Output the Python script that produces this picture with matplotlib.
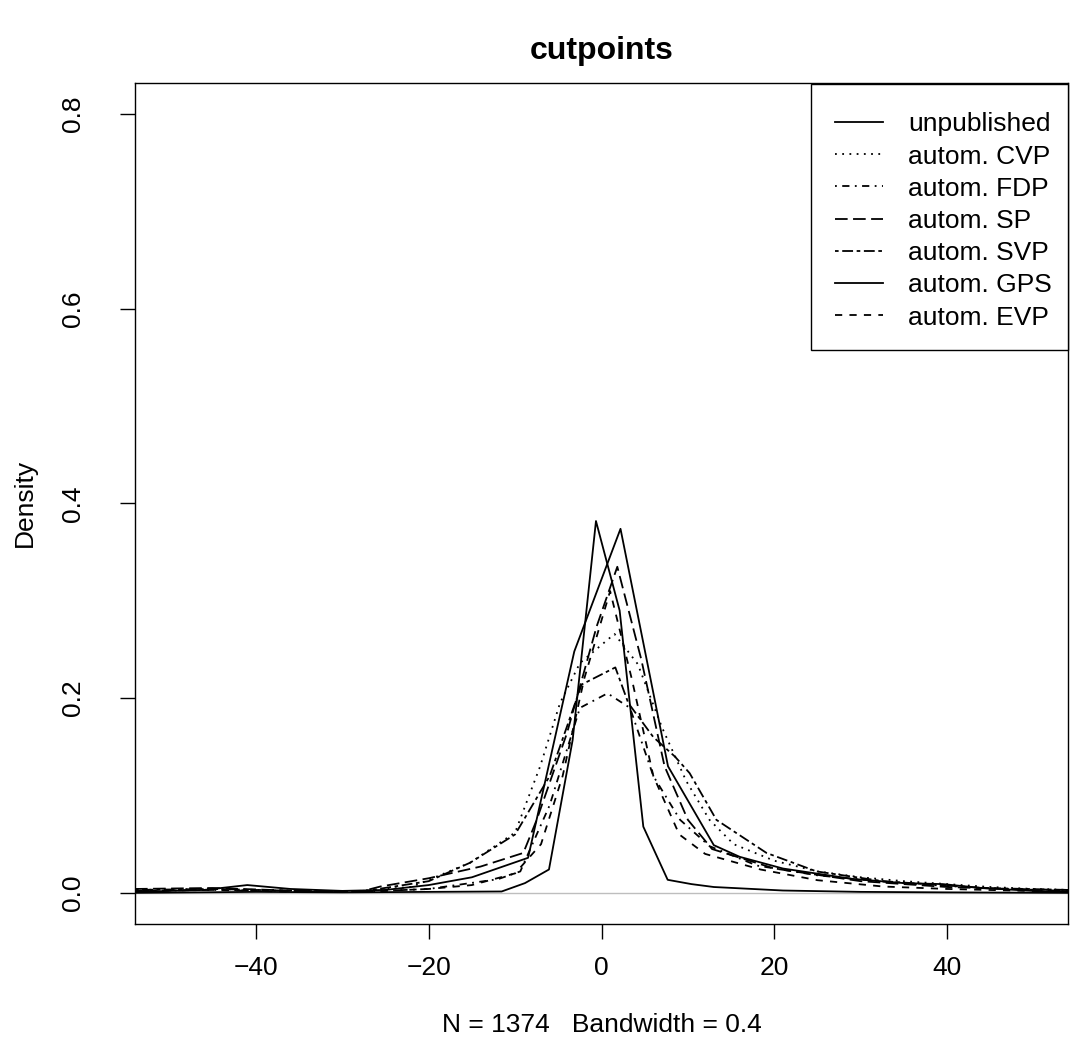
import numpy as np
import matplotlib
matplotlib.use('Agg')
import matplotlib.pyplot as plt
from matplotlib.lines import Line2D
from matplotlib.patches import Rectangle

plt.rcParams['font.family'] = ['Liberation Sans', 'DejaVu Sans']

# density curves (x, y vertices)
labels = ['unpublished', 'autom. CVP', 'autom. FDP', 'autom. SP',
          'autom. SVP', 'autom. GPS', 'autom. EVP']

unpub_x = [-54, -46, -41, -36, -30, -25, -20, -15, -8.5, -3.15, 2.2, 7.7, 13.0, 16, 21, 29, 35, 39.5, 44, 50, 54]
unpub_y = [0.001, 0.003, 0.008, 0.004, 0.002, 0.003, 0.008, 0.016, 0.036, 0.248, 0.374, 0.13, 0.049, 0.037, 0.025, 0.0144, 0.010, 0.009, 0.005, 0.002, 0.001]

cvp_x = [-54, -45, -35, -28, -22, -15.2, -10, -7.1, -4.8, -2.5, 1.5, 4.2, 7.0, 9.8, 12.5, 15.3, 20, 25, 30, 35, 40, 45, 50, 54]
cvp_y = [0.003, 0.004, 0.002, 0.002, 0.006, 0.031, 0.062, 0.13, 0.195, 0.236, 0.266, 0.235, 0.17, 0.115, 0.075, 0.05, 0.033, 0.022, 0.016, 0.012, 0.009, 0.006, 0.004, 0.003]

fdp_x = [-54, -45, -35, -28, -20, -12, -9.4, -6, -2.5, 0.7, 3.3, 6, 9.1, 12.5, 18, 25, 32, 40, 47, 54]
fdp_y = [0.002, 0.003, 0.002, 0.001, 0.004, 0.014, 0.022, 0.09, 0.19, 0.205, 0.19, 0.12, 0.075, 0.048, 0.028, 0.018, 0.012, 0.007, 0.004, 0.003]

sp_x = [-54, -45, -35, -28, -25.6, -20, -14, -9.05, -7.5, -4.0, -0.55, 1.83, 4.6, 7.3, 10, 12.8, 20, 30, 40, 47, 54]
sp_y = [0.004, 0.005, 0.002, 0.001, 0.0065, 0.015, 0.027, 0.041, 0.075, 0.164, 0.274, 0.335, 0.24, 0.13, 0.075, 0.045, 0.025, 0.012, 0.006, 0.004, 0.002]

svp_x = [-54, -45, -35, -28, -20, -15.2, -10, -6, -2.3, 1.6, 3.1, 6, 8.5, 10.2, 13.3, 19.1, 24.9, 32.6, 44.2, 54]
svp_y = [0.003, 0.004, 0.002, 0.001, 0.012, 0.031, 0.06, 0.12, 0.214, 0.2316, 0.195, 0.16, 0.14, 0.123, 0.075, 0.041, 0.022, 0.012, 0.005, 0.003]

gps_x = [-54, -40, -30, -20, -11.56, -8.86, -6.08, -3.34, -0.64, 2.1, 4.84, 7.66, 10.4, 13, 21, 30, 40, 54]
gps_y = [0.0, 0.001, 0.0005, 0.001, 0.0014, 0.010, 0.024, 0.157, 0.382, 0.29, 0.068, 0.0134, 0.009, 0.006, 0.0024, 0.001, 0.0005, 0.0]

evp_x = [-54, -45, -35, -28, -20, -15, -10, -7, -4.5, -2, 1.0, 3.5, 6, 9, 12, 18.4, 25, 32.6, 40, 54]
evp_y = [0.002, 0.003, 0.001, 0.001, 0.004, 0.008, 0.02, 0.05, 0.12, 0.22, 0.31, 0.22, 0.12, 0.06, 0.04, 0.024, 0.013, 0.0065, 0.004, 0.001]

xs = [unpub_x, cvp_x, fdp_x, sp_x, svp_x, gps_x, evp_x]
ys = [unpub_y, cvp_y, fdp_y, sp_y, svp_y, gps_y, evp_y]
# R lty: solid, dotted, dotdash, longdash, twodash, solid, dashed
dashes = [None, (1, 3), (1, 3, 4, 3), (7, 3), (2, 2, 6, 2), None, (4, 4)]

fs = 19
W, H = 1070, 1057
fig = plt.figure(figsize=(W/100, H/100), dpi=100)
ax = fig.add_axes([135/W, 1-924/H, (1068-135)/W, (924-83)/H])

ax.axhline(0, color='#bebebe', lw=1.0, zorder=1)
for ii in range(len(labels)):
	line, = ax.plot(xs[ii], ys[ii], color='black', lw=1.3, zorder=2)
	if dashes[ii] is not None:
		line.set_dashes(dashes[ii])

ax.set_xlim(-54, 54)
ax.set_ylim(-0.032, 0.832)
ax.set_xticks([-40, -20, 0, 20, 40])
ax.set_xticklabels(['\u221240', '\u221220', '0', '20', '40'])
ax.set_yticks([0.0, 0.2, 0.4, 0.6, 0.8])
ax.set_yticklabels(['0.0', '0.2', '0.4', '0.6', '0.8'], rotation=90, va='center')
ax.tick_params(direction='out', length=11, width=1, labelsize=fs)
ax.tick_params(axis='x', pad=12)
ax.tick_params(axis='y', pad=25)
for sp in ax.spines.values():
	sp.set_linewidth(1)

fig.text(601.5/W, 1-51/H, 'cutpoints', fontsize=23, fontweight='bold', ha='center', va='center')
fig.text(601.5/W, 1-1025/H, 'N = 1374   Bandwidth = 0.4', fontsize=fs, ha='center', va='center')
fig.text(25/W, 1-503/H, 'Density', fontsize=fs, rotation=90, ha='center', va='center')

# legend box drawn like R's legend()
fig.patches.append(Rectangle((811/W, 1-350/H), (1068-811)/W, (350-84)/H,
	transform=fig.transFigure, fill=True, facecolor='white', edgecolor='black', lw=1, zorder=5))
row0 = 122
step = 32.2
for ii in range(len(labels)):
	yy = 1-(row0+ii*step)/H
	ln = Line2D([835/W, 883/W], [yy, yy], transform=fig.transFigure, color='black', lw=1.3, zorder=6)
	if dashes[ii] is not None:
		ln.set_dashes(dashes[ii])
	fig.lines.append(ln)
	fig.text(908/W, yy, labels[ii], fontsize=fs, ha='left', va='center_baseline', zorder=6)

fig.savefig('out.png', dpi=100)
